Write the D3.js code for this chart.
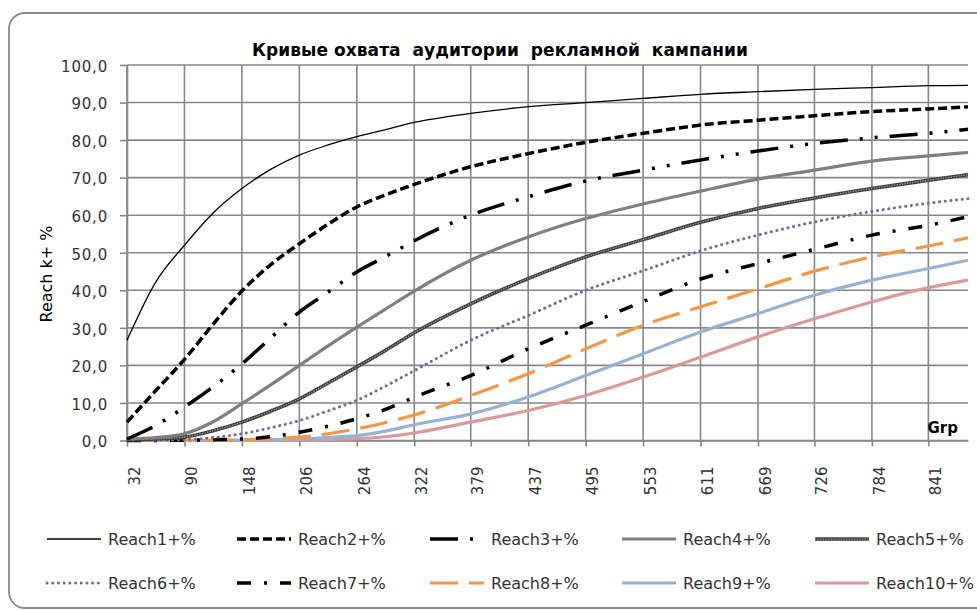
<!DOCTYPE html>
<html><head><meta charset="utf-8">
<script src="https://cdn.jsdelivr.net/npm/d3@7/dist/d3.min.js"></script>
<style>
html,body{margin:0;padding:0;background:#fff;}
text{font-family:"DejaVu Sans",Verdana,sans-serif;}
</style></head>
<body>
<svg id="chart" width="977" height="610"></svg>
<script>
// ---------------- DATA ----------------
const title = "Кривые охвата  аудитории  рекламной  кампании";
const yTitle = "Reach k+ %";
const xTitle = "Grp";
const grp = [32, 61, 90, 119, 148, 177, 206, 235, 264, 293, 322, 379, 437, 495, 553, 611, 669, 726, 784, 841, 881];
const xTickValues = [32, 90, 148, 206, 264, 322, 379, 437, 495, 553, 611, 669, 726, 784, 841];
const yTickValues = [0, 10, 20, 30, 40, 50, 60, 70, 80, 90, 100];
const seriesNames = ["Reach1+%", "Reach2+%", "Reach3+%", "Reach4+%", "Reach5+%", "Reach6+%", "Reach7+%", "Reach8+%", "Reach9+%", "Reach10+%"];
const reach1  = [26.7, 42.2, 52.0, 60.6, 67.1, 72.2, 76.0, 78.7, 80.9, 82.8, 84.7, 87.1, 88.9, 90.0, 91.1, 92.2, 92.9, 93.5, 94.0, 94.5, 94.6];
const reach2  = [4.9, 13.3, 21.6, 31.0, 39.8, 46.8, 52.4, 57.6, 62.2, 65.4, 68.2, 72.9, 76.4, 79.4, 81.8, 84.0, 85.3, 86.5, 87.6, 88.3, 88.9];
const reach3  = [0.4, 4.0, 8.9, 14.3, 20.4, 27.3, 34.2, 39.5, 44.9, 49.0, 53.2, 60.0, 64.9, 69.1, 72.0, 74.7, 77.1, 79.1, 80.6, 81.8, 82.9];
const reach4  = [0.4, 0.8, 1.8, 5.0, 9.8, 14.8, 20.0, 25.2, 30.2, 35.0, 39.8, 48.0, 54.2, 59.1, 63.0, 66.4, 69.6, 72.0, 74.4, 75.8, 76.7];
const reach5  = [0.2, 0.4, 0.9, 2.6, 4.9, 7.8, 11.1, 15.3, 19.6, 24.0, 28.7, 36.4, 43.1, 48.9, 53.5, 58.1, 61.8, 64.6, 67.1, 69.3, 70.8];
const reach6  = [0.0, 0.1, 0.2, 0.8, 1.8, 3.4, 5.3, 7.9, 10.7, 14.5, 18.6, 26.7, 33.3, 40.0, 45.2, 50.5, 54.7, 58.2, 61.0, 63.2, 64.4];
const reach7  = [0.0, 0.0, 0.1, 0.2, 0.4, 1.0, 2.2, 3.8, 5.8, 8.3, 11.5, 17.3, 24.4, 30.7, 37.0, 43.0, 47.1, 50.9, 54.7, 57.3, 59.6];
const reach8  = [0.0, 0.0, 0.0, 0.1, 0.2, 0.5, 0.9, 1.8, 3.1, 4.8, 6.8, 12.0, 17.8, 24.4, 30.7, 35.6, 40.4, 45.1, 48.9, 51.8, 54.0];
const reach9  = [0.0, 0.0, 0.0, 0.0, 0.1, 0.2, 0.4, 0.8, 1.3, 2.5, 4.2, 7.1, 11.6, 17.3, 23.1, 28.9, 33.8, 38.7, 42.7, 45.8, 48.0];
const reach10 = [0.0, 0.0, 0.0, 0.0, 0.0, 0.1, 0.2, 0.3, 0.5, 1.0, 2.0, 4.9, 8.0, 12.0, 16.9, 22.2, 27.6, 32.4, 36.9, 40.7, 42.7];
const seriesValues = [reach1, reach2, reach3, reach4, reach5, reach6, reach7, reach8, reach9, reach10];

// ---------------- STYLES ----------------
const styles = [
  {color:"#000000", width:1.3, dash:null},
  {color:"#000000", width:3.5, dash:"9,4"},
  {color:"#000000", width:3.5, dash:"28,12,3,12,3,12"},
  {color:"#808080", width:3.2, dash:null},
  {color:"#404040", width:3.6, dash:null, inner:"#b0b0b0"},
  {color:"#8064A2", width:3, dash:"0.1,5.6", cap:"round"},
  {color:"#000000", width:3.5, dash:"14,13,3,13"},
  {color:"#F79646", width:3.2, dash:"28,11"},
  {color:"#95B3D7", width:3.2, dash:null},
  {color:"#D99A9A", width:3.2, dash:null}
];

const svg = d3.select("#chart");
const M = {left:127, right:968, top:65, bottom:440.5};

// chart border
svg.append("rect").attr("x",9).attr("y",13).attr("width",990).attr("height",595)
  .attr("rx",16).attr("fill","#fff").attr("stroke","#8a8a8a").attr("stroke-width",1.8);

const x = d3.scaleLinear().domain([32, 881]).range([M.left, M.right]);
const y = d3.scaleLinear().domain([0, 100]).range([M.bottom, M.top]);

// gridlines
const grid = svg.append("g");
grid.selectAll(".hg").data(yTickValues).join("line")
  .attr("x1", M.left).attr("x2", M.right).attr("y1", d=>y(d)).attr("y2", d=>y(d))
  .attr("stroke","#888").attr("stroke-width",1.6);
grid.selectAll(".vg").data(xTickValues).join("line")
  .attr("x1", d=>x(d)).attr("x2", d=>x(d)).attr("y1", M.top).attr("y2", M.bottom)
  .attr("stroke","#888").attr("stroke-width",1.6);

// y axis
const yAxis = svg.append("g").attr("transform",`translate(${M.left},0)`)
  .call(d3.axisLeft(y).tickValues(yTickValues).tickSizeInner(7).tickSizeOuter(0).tickPadding(12)
    .tickFormat(d => d3.format(".1f")(d).replace(".", ",")));
yAxis.select(".domain").attr("stroke","#888").attr("stroke-width",1.6);
yAxis.selectAll(".tick line").attr("stroke","#888").attr("stroke-width",1.6);
yAxis.selectAll("text").attr("font-size",15).attr("fill","#333").attr("font-family","DejaVu Sans").attr("dy","0.42em").attr("letter-spacing","0.8");

// x axis
const xAxis = svg.append("g").attr("transform",`translate(0,${M.bottom})`)
  .call(d3.axisBottom(x).tickValues(xTickValues).tickSizeInner(6).tickSizeOuter(0).tickFormat(d=>d));
xAxis.select(".domain").attr("stroke","#888").attr("stroke-width",1.6);
xAxis.selectAll(".tick line").attr("stroke","#888").attr("stroke-width",1.6);
xAxis.selectAll("text")
  .attr("font-size",15).attr("fill","#333").attr("font-family","DejaVu Sans")
  .attr("text-anchor","end").attr("x",0).attr("y",0).attr("dy","0.35em")
  .attr("transform","translate(7,26) rotate(-90)");

// title
svg.append("text").attr("x",500).attr("y",56).attr("text-anchor","middle")
  .attr("font-size",17).attr("font-weight","bold").attr("fill","#000")
  .attr("textLength",496).attr("lengthAdjust","spacing").style("white-space","pre")
  .text(title);

// y title
svg.append("text").attr("transform","translate(52,274) rotate(-90)").attr("text-anchor","middle")
  .attr("font-size",16).attr("fill","#000").text(yTitle);

// x title
svg.append("text").attr("x",958).attr("y",433).attr("text-anchor","end")
  .attr("font-size",15).attr("font-weight","bold").attr("fill","#000").text(xTitle);

// lines
const line = d3.line().x((d,i)=>x(grp[i])).y(d=>y(d)).curve(d3.curveMonotoneX);
const linesG = svg.append("g");
function drawStroke(sel, st) {
  sel.attr("fill","none").attr("stroke",st.color).attr("stroke-width",st.width)
    .attr("stroke-linejoin","round");
  if (st.dash) sel.attr("stroke-dasharray", st.dash);
  if (st.cap) sel.attr("stroke-linecap", st.cap);
}
// draw from last to first so darker lines on top
for (let k = seriesValues.length-1; k >= 0; k--) {
  const st = styles[k];
  const p = linesG.append("path").attr("d", line(seriesValues[k]));
  drawStroke(p, st);
  if (st.inner) {
    linesG.append("path").attr("d", line(seriesValues[k])).attr("fill","none")
      .attr("stroke",st.inner).attr("stroke-width",1.1).attr("stroke-dasharray","1.2,1.4");
  }
}

// legend
const legX = [47, 237, 430, 622, 815];
const legY = [539, 583];
const leg = svg.append("g");
seriesNames.forEach((name, k) => {
  const col = k % 5, row = Math.floor(k/5);
  const x0 = legX[col], y0 = legY[row];
  const st = styles[k];
  const l = leg.append("line").attr("x1",x0).attr("x2",x0+54).attr("y1",y0).attr("y2",y0);
  drawStroke(l, st);
  if (st.inner) {
    leg.append("line").attr("x1",x0).attr("x2",x0+54).attr("y1",y0).attr("y2",y0)
      .attr("stroke",st.inner).attr("stroke-width",1.1).attr("stroke-dasharray","1.2,1.4");
  }
  leg.append("text").attr("x",x0+61).attr("y",y0+6).attr("font-size",16).attr("fill","#333").text(name);
});
</script>
</body></html>
